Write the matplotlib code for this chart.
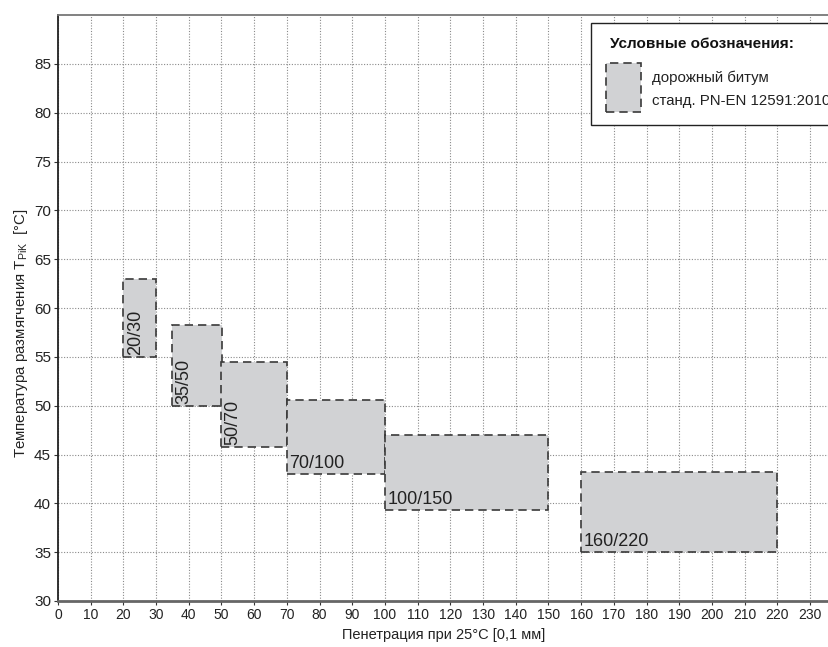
import matplotlib
matplotlib.use("Agg")
import matplotlib.pyplot as plt
from matplotlib.patches import Rectangle

plt.rcParams['font.family'] = ['Liberation Sans', 'DejaVu Sans']
plt.rcParams['mathtext.fontset'] = 'custom'
plt.rcParams['mathtext.rm'] = 'Liberation Sans'

# Bitumen grades: penetration range (x) and softening point range (y)
grades = ['20/30', '35/50', '50/70', '70/100', '100/150', '160/220']
pen_lo = [20, 35, 50, 70, 100, 160]
pen_hi = [30, 50, 70, 100, 150, 220]
soft_lo = [55, 50, 45.8, 43, 39.3, 35]
soft_hi = [63, 58.3, 54.5, 50.6, 47, 43.2]
vertical_label = [True, True, True, False, False, False]

x_ticks = list(range(0, 231, 10))
y_ticks = list(range(30, 86, 5))

W, H = 829, 647
fig = plt.figure(figsize=(W / 100, H / 100), dpi=100)

# axes in pixel terms: x=0 at 58px, 3.27 px per unit; y 30..90 between 601px and 15px
left, bottom, top = 58, 601, 15
x_max = 240
ax = fig.add_axes([left / W, 1 - bottom / H, x_max * 3.27 / W, (bottom - top) / H])

fill_c = '#d1d2d4'
edge_c = '#3a3a3a'
for name, x0, x1, y0, y1, vert in zip(grades, pen_lo, pen_hi, soft_lo, soft_hi, vertical_label):
    ax.add_patch(Rectangle((x0, y0), x1 - x0, y1 - y0, facecolor=fill_c,
                           edgecolor=edge_c, lw=1.2, linestyle=(0, (5, 3)), zorder=3))
    if vert:
        ax.text(x0 + 1.0, y0 + 0.15, name, rotation=90, ha='left', va='bottom',
                fontsize=13, color='#222222', zorder=4)
    else:
        ax.text(x0 + 0.7, y0 + 0.2, name, ha='left', va='bottom',
                fontsize=13, color='#222222', zorder=4)

ax.set_xlim(0, x_max)
ax.set_ylim(30, 90)
ax.set_xticks(x_ticks)
ax.set_yticks(y_ticks)
ax.tick_params(axis='both', length=3, width=0.8, color='#333333',
               labelcolor='#222222', pad=2)
ax.tick_params(axis='x', labelsize=10)
ax.tick_params(axis='y', labelsize=11)
ax.grid(True, linestyle=(0, (1, 1.5)), color='#8a8a8a', lw=0.8, zorder=1)
ax.set_axisbelow(True)

ax.spines['left'].set_color('#222222')
ax.spines['left'].set_linewidth(1.3)
ax.spines['bottom'].set_color('#666666')
ax.spines['bottom'].set_linewidth(2.0)
ax.spines['top'].set_color('#777777')
ax.spines['top'].set_linewidth(1.3)
ax.spines['right'].set_visible(False)

fig.text(444 / W, 1 - 635 / H, 'Пенетрация при 25°C [0,1 мм]', ha='center', va='center',
         fontsize=10.5, color='#222222')
fig.text(21 / W, 1 - 333 / H, r'Температура размягчения T$_{\mathrm{PiK}}$  [°C]',
         ha='center', va='center', rotation=90, fontsize=10.8, color='#222222')

# legend box, running off the right edge
def fx(px):
    return px / W

def fy(py):
    return 1 - py / H

fig.add_artist(Rectangle((fx(591), fy(125)), fx(870) - fx(591), fy(23) - fy(125),
                         transform=fig.transFigure, facecolor='white',
                         edgecolor='#222222', lw=1.0, zorder=5))
fig.add_artist(Rectangle((fx(606), fy(112)), fx(641) - fx(606), fy(63) - fy(112),
                         transform=fig.transFigure, facecolor=fill_c,
                         edgecolor=edge_c, lw=1.2, linestyle=(0, (5, 3)), zorder=6))
fig.text(fx(610), fy(44), 'Условные обозначения:', ha='left', va='center',
         fontsize=11, fontweight='bold', color='#111111', zorder=6)
fig.text(fx(652), fy(78), 'дорожный битум', ha='left', va='center',
         fontsize=10.8, color='#222222', zorder=6)
fig.text(fx(652), fy(101), 'станд. PN-EN 12591:2010', ha='left', va='center',
         fontsize=10.8, color='#222222', zorder=6)

fig.savefig('out.png', dpi=100)
